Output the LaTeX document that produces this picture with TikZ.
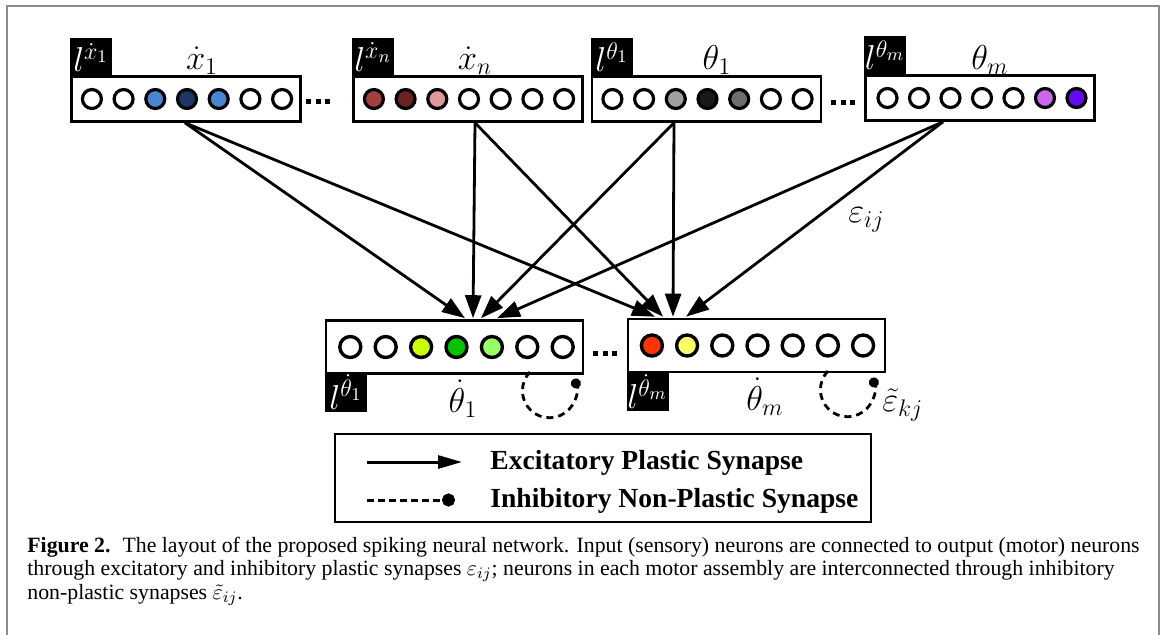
\documentclass[tikz,border=0pt]{standalone}
\usepackage{fontspec}
\setmainfont{Liberation Serif}
\usetikzlibrary{arrows.meta,calc}

% neuron fill colours
\definecolor{nblue}{RGB}{74,134,208}
\definecolor{nnavy}{RGB}{28,56,98}
\definecolor{nred}{RGB}{162,64,64}
\definecolor{ndred}{RGB}{105,35,35}
\definecolor{npink}{RGB}{222,152,152}
\definecolor{ngrayA}{RGB}{160,160,160}
\definecolor{nblack}{RGB}{25,25,25}
\definecolor{ngrayB}{RGB}{110,110,110}
\definecolor{nviolet}{RGB}{202,102,240}
\definecolor{npurple}{RGB}{102,10,245}
\definecolor{nlime}{RGB}{204,255,0}
\definecolor{ngreen}{RGB}{0,195,0}
\definecolor{nlgreen}{RGB}{152,255,102}
\definecolor{norange}{RGB}{255,52,0}
\definecolor{nyellow}{RGB}{255,255,102}
\definecolor{framegray}{RGB}{138,138,138}

\newcommand\tagfont{\fontsize{18}{21}\selectfont}
\newcommand\titlefont{\fontsize{17}{20}\selectfont}

\begin{document}
\begin{tikzpicture}[x=0.5pt,y=-0.5pt,
  layer/.style={draw,line width=1.3pt,fill=white,inner sep=0pt,
    minimum width=114.5pt,minimum height=22.5pt},
  outlayer/.style={layer,minimum width=128.5pt,minimum height=26.5pt},
  neuron/.style={circle,draw,line width=1.6pt,inner sep=0pt,minimum size=9.5pt},
  bneuron/.style={neuron,line width=1.7pt,minimum size=10.5pt},
  tagbox/.style={fill=black,text=white,inner sep=0pt,minimum width=21pt,
    minimum height=19.5pt,font=\tagfont},
  layertitle/.style={anchor=base,inner sep=0pt,font=\titlefont},
  exc/.style={line width=1.4pt,-{Triangle[length=11.5pt,width=8pt]}},
  inh/.style={line width=1.4pt,dash pattern=on 3.5pt off 2.5pt,
    -{Circle[length=5pt]}},
  ellipsis/.style={inner sep=0pt},
  legtext/.style={anchor=west,inner sep=0pt,font=\fontsize{13.8}{16}\selectfont\bfseries},
  captext/.style={anchor=base west,inner sep=0pt,font=\fontsize{10.9}{13}\selectfont}
]
\useasboundingbox (0,0) rectangle (1163,634);

% page frame
\draw[framegray,line width=1pt] (7,650) -- (7,6) -- (1159,6) -- (1159,650);

% ---- sensory layers ----
\node[layer] (in1) at (186,99) {};
\node[layer] (in2) at (468,99) {};
\node[layer] (in3) at (706.5,99) {};
\node[layer] (in4) at (980,98) {};

\foreach \c [count=\i] in {white,white,nblue,nnavy,nblue,white,white}
  \node[neuron,fill=\c] (in1n\i) at ($(in1.center)+({(\i-4)*31.7+1},0)$) {};
\foreach \c [count=\i] in {nred,ndred,npink,white,white,white,white}
  \node[neuron,fill=\c] (in2n\i) at ($(in2.center)+({(\i-4)*31.7+1},0)$) {};
\foreach \c [count=\i] in {white,white,ngrayA,nblack,ngrayB,white,white}
  \node[neuron,fill=\c] (in3n\i) at ($(in3.center)+({(\i-4)*31.7+1},0)$) {};
\foreach \c [count=\i] in {white,white,white,white,white,nviolet,npurple}
  \node[neuron,fill=\c] (in4n\i) at ($(in4.center)+({(\i-4)*31.5+2},0)$) {};

\node[tagbox] (tin1) at (91,57.5) {$l^{\dot x_1}$};
\node[tagbox] (tin2) at (373,57) {$l^{\dot x_n}$};
\node[tagbox] (tin3) at (612,57) {$l^{\theta_1}$};
\node[tagbox] (tin4) at (885,55) {$l^{\theta_m}$};

\node[layertitle] (nin1) at (202,69) {$\dot x_1$};
\node[layertitle] (nin2) at (475,69) {$\dot x_n$};
\node[layertitle] (nin3) at (717,69) {$\theta_1$};
\node[layertitle] (nin4) at (990,69) {$\theta_m$};

\node[ellipsis] (dots1) at (318,101) {\rule{2.5pt}{2.5pt}\hspace{2.2pt}\rule{2.5pt}{2.5pt}\hspace{2.2pt}\rule{2.5pt}{2.5pt}};
\node[ellipsis] (dots2) at (843,102) {\rule{2.5pt}{2.5pt}\hspace{2.2pt}\rule{2.5pt}{2.5pt}\hspace{2.2pt}\rule{2.5pt}{2.5pt}};

% ---- motor layers ----
\node[outlayer] (outA) at (454.5,347) {};
\node[outlayer] (outB) at (756.5,345.5) {};

\foreach \c [count=\i] in {white,white,nlime,ngreen,nlgreen,white,white}
  \node[bneuron,fill=\c] (outAn\i) at ($(outA.center)+({(\i-4)*35.4+2},0)$) {};
\foreach \c [count=\i] in {norange,nyellow,white,white,white,white,white}
  \node[bneuron,fill=\c] (outBn\i) at ($(outB.center)+({(\i-4)*35.2+1},0)$) {};

\node[ellipsis] (dots3) at (605,353) {\rule{2.5pt}{2.5pt}\hspace{2.2pt}\rule{2.5pt}{2.5pt}\hspace{2.2pt}\rule{2.5pt}{2.5pt}};

\node[tagbox] (toutA) at (346,392) {$l^{\dot\theta_1}$};
\node[tagbox] (toutB) at (647.5,391.5) {$l^{\dot\theta_m}$};

\node[layertitle] (noutA) at (463,412) {$\dot\theta_1$};
\node[layertitle] (noutB) at (765,410) {$\dot\theta_m$};

% ---- excitatory plastic synapses ----
\coordinate (s1) at ($(in1.south)+(-1,0)$);
\coordinate (s2) at ($(in2.south)+(7,0)$);
\coordinate (s3) at ($(in3.south)+(-32.5,0)$);
\coordinate (s4) at ($(in4.south)+(-37,0)$);

\coordinate (a1) at ($(outA.north)+(10.5,-1)$);
\coordinate (a2) at ($(outA.north)+(18.5,-1)$);
\coordinate (a3) at ($(outA.north)+(26.5,-1)$);
\coordinate (a4) at ($(outA.north)+(42.5,-1)$);
\coordinate (b1) at ($(outB.north)+(-101.5,-1)$);
\coordinate (b2) at ($(outB.north)+(-93.5,-1)$);
\coordinate (b3) at ($(outB.north)+(-83.5,-1)$);
\coordinate (b4) at ($(outB.north)+(-70.5,-1)$);

\draw[exc] (s1) -- (a1);
\draw[exc] (s1) -- (b1);
\draw[exc] (s2) -- (a2);
\draw[exc] (s2) -- (b2);
\draw[exc] (s3) -- (a3);
\draw[exc] (s3) -- (b3);
\draw[exc] (s4) -- (a4);
\draw[exc] (s4) -- (b4);

\node[anchor=base west,inner sep=0pt,font=\fontsize{16.5}{19}\selectfont] (eps) at (848,222) {$\varepsilon_{ij}$};

% ---- inhibitory non-plastic synapses within each motor layer ----
\coordinate (lA) at (530,372);
\coordinate (lB) at (828,371);
\draw[inh] (lA) arc[start angle=-136,end angle=-386,radius=27];
\draw[inh] (lB) arc[start angle=-136,end angle=-386,radius=27];

\node[anchor=base west,inner sep=0pt,font=\fontsize{18.5}{21}\selectfont] (epst) at (882,411) {$\tilde\varepsilon_{kj}$};

% ---- legend ----
\node[draw,line width=1.3pt,minimum width=268pt,minimum height=44pt,inner sep=0pt]
  (legend) at (603,478) {};
\coordinate (e0) at (367,462);
\coordinate (e1) at (462,462);
\coordinate (i0) at (367,500);
\coordinate (i1) at (455,500);
\draw[line width=1.5pt,-{Triangle[length=12pt,width=6.5pt]}] (e0) -- (e1);
\draw[line width=1.5pt,dash pattern=on 3.5pt off 2pt,-{Circle[length=6.5pt]}] (i0) -- (i1);
\node[legtext] (lexc) at (490,463) {Excitatory Plastic Synapse};
\node[legtext] (linh) at (490,501) {Inhibitory Non-Plastic Synapse};

% ---- caption ----
\node[captext] (cap1) at (27,552) {\textbf{Figure 2.}\hspace{6pt}The layout of the proposed spiking neural network. Input (sensory) neurons are connected to output (motor) neurons};
\node[captext] (cap2) at (27,575.5) {through excitatory and inhibitory plastic synapses $\varepsilon_{ij}$; neurons in each motor assembly are interconnected through inhibitory};
\node[captext] (cap3) at (27,599) {non-plastic synapses $\tilde\varepsilon_{ij}$.};
\end{tikzpicture}
\end{document}
